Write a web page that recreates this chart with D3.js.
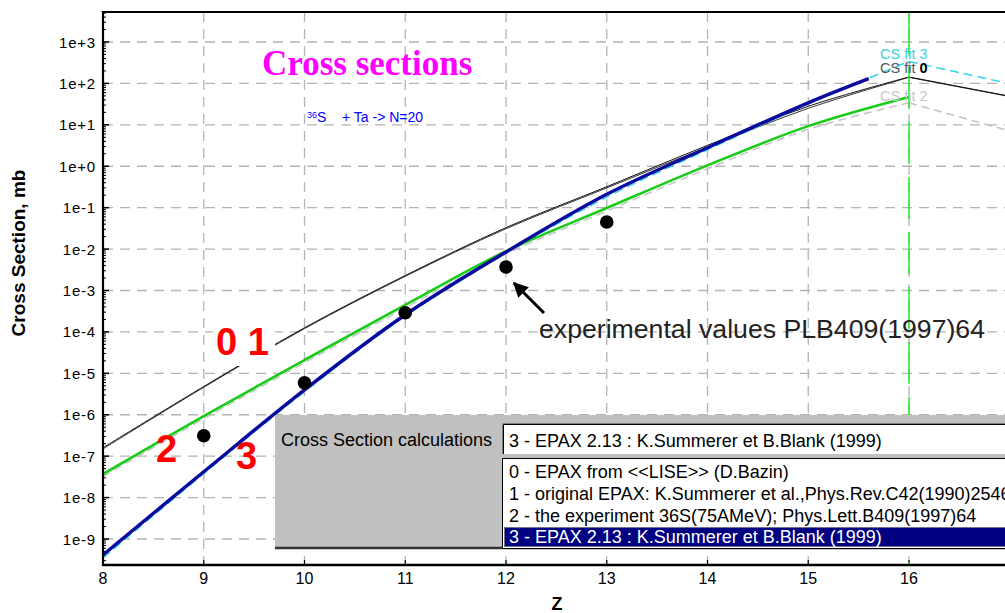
<!DOCTYPE html>
<html><head><meta charset="utf-8">
<script src="https://cdn.jsdelivr.net/npm/d3@7"></script>
<style>body{margin:0;background:#fff}svg{display:block;font-family:Arial,"Liberation Sans",sans-serif}</style>
</head><body><svg id="c" width="1005" height="613"></svg>
<script>
// ---- data ----
const zTicks = [8, 9, 10, 11, 12, 13, 14, 15, 16];
const yTicks = [1e-9, 1e-8, 1e-7, 1e-6, 1e-5, 1e-4, 1e-3, 1e-2, 1e-1, 1e0, 1e1, 1e2, 1e3];
const yTickLabels = ["1e-9", "1e-8", "1e-7", "1e-6", "1e-5", "1e-4", "1e-3", "1e-2", "1e-1", "1e+0", "1e+1", "1e+2", "1e+3"];

const zFull = [8, 9, 10, 11, 12, 13, 14, 15, 16, 17];
const cs0 = [1.6e-7, 4.8e-6, 1.26e-4, 2.3e-3, 3.3e-2, 0.32, 3.2, 28, 143, 49];   // 0 - EPAX LISE
const cs1 = [1.5e-7, 4.6e-6, 1.2e-4, 2.2e-3, 3.1e-2, 0.30, 2.9, 25, 140, 48];   // 1 - original EPAX
const fit2 = [3.2e-8, 8.0e-7, 1.8e-5, 3.8e-4, 7.6e-3, 8.3e-2, 0.87, 7.8, 34, 7.1]; // CS fit 2
const fit3 = [3.5e-10, 3.8e-8, 3.6e-6, 2.4e-4, 7.9e-3, 0.18, 2.5, 32, 340, 98];   // CS fit 3

const cs2Z = [8, 9, 10, 11, 12, 13, 14, 15, 16];
const cs2 = [3.7e-8, 9.3e-7, 2.1e-5, 4.5e-4, 8.9e-3, 9.8e-2, 1.05, 9.3, 47];      // 2 - experiment

const cs3Z = [8, 9, 10, 11, 12, 13, 14, 15, 15.6];
const cs3 = [4.1e-10, 4.2e-8, 4.0e-6, 2.6e-4, 8.5e-3, 0.21, 2.8, 34, 130];       // 3 - EPAX 2.13

const expZ = [9, 10, 11, 12, 13];
const expCS = [3.1e-7, 5.9e-6, 2.9e-4, 3.7e-3, 4.5e-2];

const dialogLabel = "Cross Section calculations";
const comboText = "3 - EPAX 2.13 : K.Summerer et B.Blank (1999)";
const listItems = [
  "0 - EPAX from <<LISE>> (D.Bazin)",
  "1 - original EPAX: K.Summerer et al.,Phys.Rev.C42(1990)2546",
  "2 - the experiment 36S(75AMeV); Phys.Lett.B409(1997)64",
  "3 - EPAX 2.13 : K.Summerer et B.Blank (1999)"
];

// ---- layout ----
const W = 1005, H = 613;
const L = 103, T = 12, B = 565, R = 1005;
const x = d3.scaleLinear().domain([8, 16]).range([103, 909]);
const y = d3.scaleLog().domain([1e3, 1e-9]).range([42, 539]);

const svg = d3.select("#c");
svg.append("rect").attr("width", W).attr("height", H).attr("fill", "#fff");

svg.append("defs").append("clipPath").attr("id", "clip")
  .append("rect").attr("x", L).attr("y", T).attr("width", R - L).attr("height", B - T);

// grid
const grid = svg.append("g").attr("stroke", "#b4b4b4").attr("stroke-width", 1.3).attr("stroke-dasharray", "10,7");
grid.selectAll("line.h").data(yTicks).join("line")
  .attr("x1", L).attr("x2", R).attr("y1", d => y(d)).attr("y2", d => y(d));
const xGridVals = d3.range(9, 18);
grid.selectAll("line.v").data(xGridVals).join("line")
  .attr("x1", d => x(d)).attr("x2", d => x(d)).attr("y1", T).attr("y2", B);

// minor ticks on y axis
const minor = [];
for (let e = -10; e < 4; e++) for (let m = 2; m <= 9; m++) { const v = m * Math.pow(10, e); if (y(v) > T && y(v) < B) minor.push(v); }
svg.append("g").selectAll("line").data(minor).join("line")
  .attr("x1", L).attr("x2", L + 3).attr("y1", d => y(d)).attr("y2", d => y(d))
  .attr("stroke", "#000").attr("stroke-width", 1);
svg.append("g").selectAll("line").data(yTicks).join("line")
  .attr("x1", L).attr("x2", L + 6).attr("y1", d => y(d)).attr("y2", d => y(d))
  .attr("stroke", "#000").attr("stroke-width", 1.5);
svg.append("g").selectAll("line").data(zTicks).join("line")
  .attr("x1", d => x(d)).attr("x2", d => x(d)).attr("y1", B).attr("y2", B - 5)
  .attr("stroke", "#000").attr("stroke-width", 1.2);

// curves
const plot = svg.append("g").attr("clip-path", "url(#clip)");
function series(zs, vs, attrs) {
  const pts = zs.map((z, i) => [z, vs[i]]);
  const main = pts.filter(p => p[0] <= 16);
  const tail = pts.filter(p => p[0] >= 16);
  const lc = d3.line().x(p => x(p[0])).y(p => y(p[1])).curve(d3.curveCatmullRom.alpha(0.5));
  const ll = d3.line().x(p => x(p[0])).y(p => y(p[1]));
  const g = plot.append("g");
  const a = g.append("path").attr("d", lc(main)).attr("fill", "none");
  const parts = [a];
  if (tail.length > 1) parts.push(g.append("path").attr("d", ll(tail)).attr("fill", "none"));
  parts.forEach(p => Object.entries(attrs).forEach(([k, v]) => p.attr(k, v)));
}
series(zFull, fit2, { stroke: "#c4c4c4", "stroke-width": 1.5, "stroke-dasharray": "8,5" });
series(zFull, cs1, { stroke: "#333", "stroke-width": 1 });
series(zFull, cs0, { stroke: "#111", "stroke-width": 1 });
series(zFull, fit3, { stroke: "#33d6e6", "stroke-width": 1.5, "stroke-dasharray": "9,5" });
series(cs2Z, cs2, { stroke: "#18cc18", "stroke-width": 2.6 });
series(cs3Z, cs3, { stroke: "#0a0aa0", "stroke-width": 3.4 });

// vertical green line at Z=16
plot.append("line").attr("x1", x(16)).attr("x2", x(16)).attr("y1", T).attr("y2", B)
  .attr("stroke", "#1ef01e").attr("stroke-width", 1.5).attr("stroke-dasharray", "42,13");

// experimental points
plot.append("g").selectAll("circle").data(expZ.map((z, i) => [z, expCS[i]])).join("circle")
  .attr("cx", d => x(d[0])).attr("cy", d => y(d[1])).attr("r", 6.8).attr("fill", "#000");

// axes frame
svg.append("line").attr("x1", L).attr("x2", L).attr("y1", T - 1).attr("y2", B + 1).attr("stroke", "#000").attr("stroke-width", 2.2);
svg.append("line").attr("x1", L - 1).attr("x2", R).attr("y1", T).attr("y2", T).attr("stroke", "#000").attr("stroke-width", 2.2);
svg.append("line").attr("x1", L - 1).attr("x2", R).attr("y1", B).attr("y2", B).attr("stroke", "#000").attr("stroke-width", 2.5);

// tick labels
svg.append("g").selectAll("text").data(yTicks).join("text")
  .attr("x", 96).attr("y", d => y(d) + 5.5).attr("text-anchor", "end")
  .attr("font-size", 15).attr("letter-spacing", 0.8).attr("fill", "#000")
  .text((d, i) => yTickLabels[i]);
svg.append("g").selectAll("text").data(zTicks).join("text")
  .attr("x", d => x(d)).attr("y", 584).attr("text-anchor", "middle")
  .attr("font-size", 16).attr("fill", "#000").text(d => d);

svg.append("text").attr("transform", "translate(25,253) rotate(-90)").attr("text-anchor", "middle")
  .attr("font-size", 19).attr("font-weight", "bold").text("Cross Section, mb");
svg.append("text").attr("x", 557).attr("y", 610).attr("text-anchor", "middle")
  .attr("font-size", 18).attr("font-weight", "bold").text("Z");

// title & subtitle
svg.append("text").attr("x", 262).attr("y", 75).attr("font-family", "'Liberation Serif','Times New Roman',serif")
  .attr("font-size", 35).attr("font-weight", "bold").attr("fill", "#ff00ff").text("Cross sections");
const sub = svg.append("text").attr("x", 307).attr("y", 122).attr("fill", "#0000ff").attr("font-size", 14);
sub.append("tspan").attr("font-size", 9).attr("dy", -4).text("36");
sub.append("tspan").attr("dy", 4).text("S");
sub.append("tspan").attr("x", 342).text("+ Ta -> N=20");

// curve fit labels
svg.append("text").attr("x", 880).attr("y", 59).attr("font-size", 14.5).attr("fill", "#3cd0dc").text("CS fit 3");
const f0 = svg.append("text").attr("x", 880).attr("y", 73).attr("font-size", 14.5).attr("fill", "#555");
f0.append("tspan").text("CS fit ");
f0.append("tspan").attr("fill", "#000").attr("font-weight", "bold").text("0");
svg.append("text").attr("x", 880).attr("y", 101).attr("font-size", 14.5).attr("fill", "#c8c8c8").text("CS fit 2");

// red curve numbers
svg.append("rect").attr("x", 213).attr("y", 322).attr("width", 62).attr("height", 44).attr("fill", "#fff");
const red = svg.append("g").attr("fill", "#ff0000").attr("font-weight", "bold").attr("font-size", 38);
red.append("text").attr("x", 216).attr("y", 355).text("0 1");
red.append("text").attr("x", 156).attr("y", 462).text("2");
red.append("text").attr("x", 236).attr("y", 469).text("3");

// annotation
const px = x(expZ[3]), py = y(expCS[3]);
svg.append("defs").append("marker").attr("id", "ah").attr("viewBox", "0 0 10 10").attr("refX", 9).attr("refY", 5)
  .attr("markerWidth", 5).attr("markerHeight", 5).attr("orient", "auto")
  .append("path").attr("d", "M0,0 L10,5 L0,10 z").attr("fill", "#000");
svg.append("line").attr("x1", px + 38).attr("y1", py + 46).attr("x2", px + 8).attr("y2", py + 16)
  .attr("stroke", "#000").attr("stroke-width", 3).attr("marker-end", "url(#ah)");
svg.append("text").attr("x", 539).attr("y", 338).attr("font-size", 25).attr("fill", "#222")
  .attr("textLength", 446).attr("lengthAdjust", "spacingAndGlyphs").text("experimental values PLB409(1997)64");

// dialog
const dlg = svg.append("g").attr("font-size", 18);
dlg.append("rect").attr("x", 275).attr("y", 415).attr("width", R - 275).attr("height", 132).attr("fill", "#c0c0c0");
dlg.append("line").attr("x1", 275).attr("x2", R).attr("y1", 548).attr("y2", 548).attr("stroke", "#333").attr("stroke-width", 2.5);
dlg.append("text").attr("x", 281).attr("y", 446).attr("fill", "#000").text(dialogLabel);
// combo
dlg.append("rect").attr("x", 502).attr("y", 423).attr("width", 520).attr("height", 31).attr("fill", "#fff");
dlg.append("path").attr("d", "M502.5,454 V423.5 H1010").attr("fill", "none").attr("stroke", "#808080").attr("stroke-width", 1);
dlg.append("path").attr("d", "M503.5,454 V424.5 H1010").attr("fill", "none").attr("stroke", "#000").attr("stroke-width", 1);
dlg.append("text").attr("x", 509).attr("y", 446.5).attr("fill", "#000").text(comboText);
// list
dlg.append("rect").attr("x", 502.5).attr("y", 458.5).attr("width", 520).attr("height", 90).attr("fill", "#fff").attr("stroke", "#000").attr("stroke-width", 1);
dlg.append("rect").attr("x", 504).attr("y", 527).attr("width", 510).attr("height", 20).attr("fill", "#000080");
dlg.append("rect").attr("x", 504.5).attr("y", 527.5).attr("width", 510).attr("height", 19).attr("fill", "none")
  .attr("stroke", "#e0e0a0").attr("stroke-width", 1).attr("stroke-dasharray", "1,1");
dlg.selectAll("text.item").data(listItems).join("text").attr("class", "item")
  .attr("x", 509).attr("y", (d, i) => 478 + i * 21.8)
  .attr("fill", (d, i) => i === 3 ? "#fff" : "#000").text(d => d);
</script></body></html>
